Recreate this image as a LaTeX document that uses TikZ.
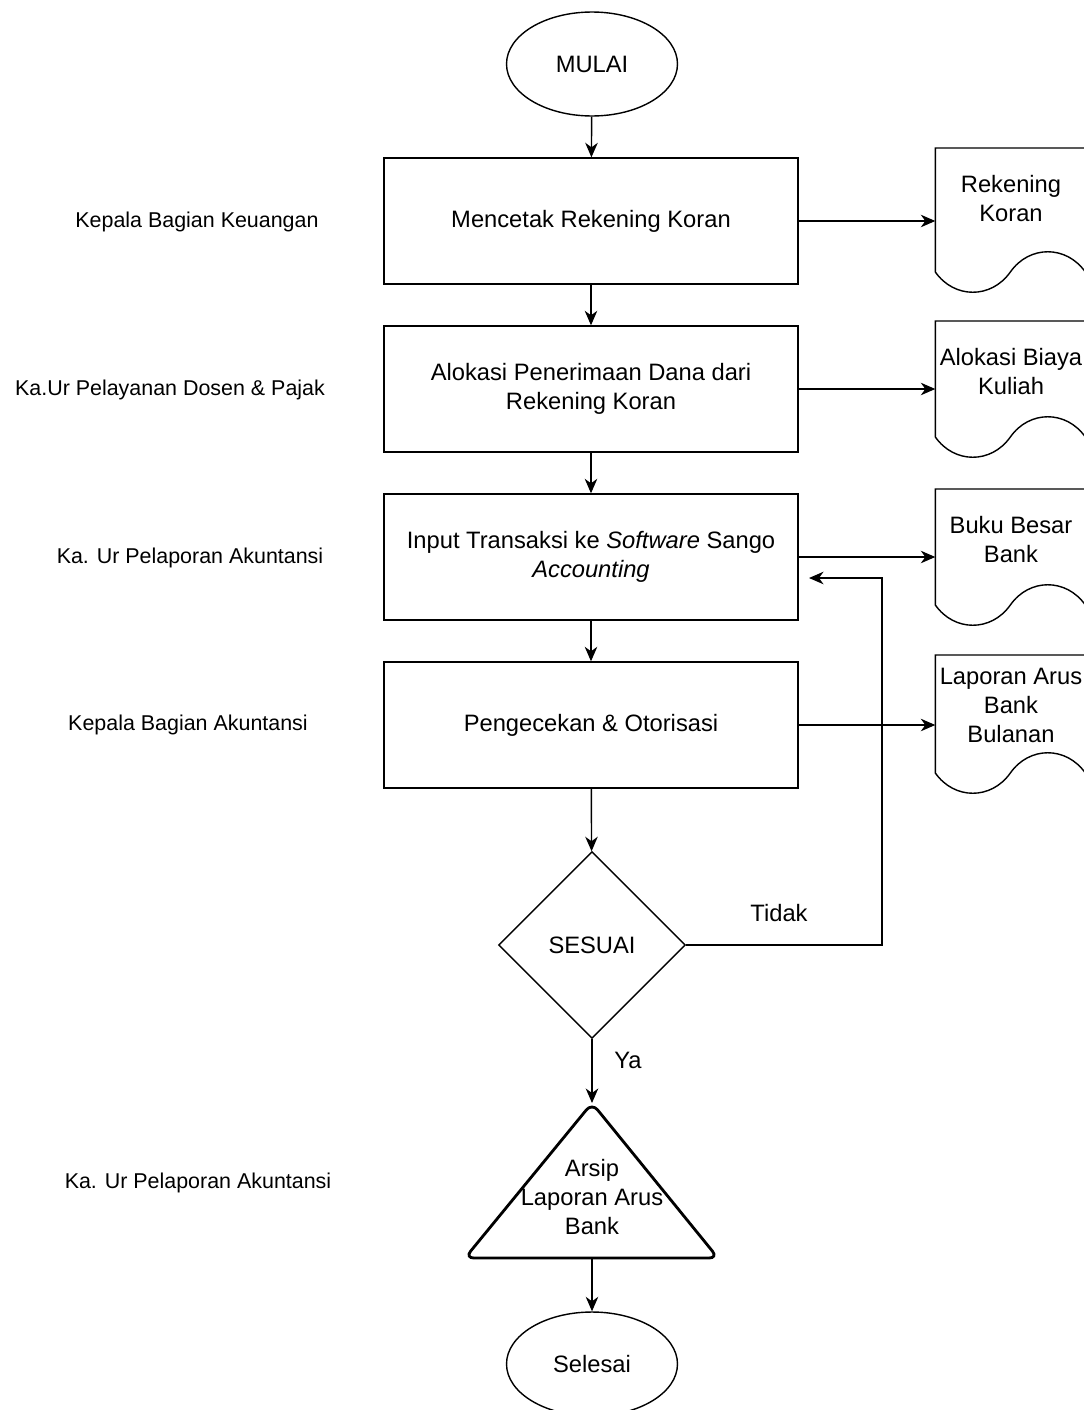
\documentclass[tikz,border=0pt]{standalone}
\usepackage{fontspec}
\setmainfont{Liberation Sans}
\usetikzlibrary{shapes.geometric,arrows.meta,positioning}
\newcommand{\isifont}{\fontsize{13.5}{16.4}\selectfont}
\newcommand{\pelakufont}{\fontsize{12.2}{14.6}\selectfont}
\tikzset{proses/.style={rectangle,draw,line width=0.8pt,minimum width=8.28cm,minimum height=2.52cm,inner sep=0pt,align=center,font=\isifont},
         terminal/.style={ellipse,draw,line width=0.8pt,minimum width=3.42cm,minimum height=2.08cm,inner sep=0pt,font=\isifont},
         keputusan/.style={diamond,draw,line width=0.8pt,aspect=1,minimum width=3.74cm,minimum height=3.74cm,inner sep=0pt,font=\isifont},
         dokumen/.style={rectangle,anchor=north,minimum width=3cm,minimum height=2cm,inner sep=0pt,align=center,font=\isifont},
         pelaku/.style={font=\pelakufont},
         ket/.style={font=\isifont},
}

\begin{document}
\begin{tikzpicture}[->,>={Stealth[length=2.9mm,width=2.5mm,inset=0.9mm]},line width=0.8pt,
x=0.02cm,y=-0.02cm]

\useasboundingbox (0,0) rectangle (1083,1410);
% \draw[help lines,step=100] (0,0) grid (1083,1410);

% alur utama
\node[terminal] (mulai) at (592,64) {MULAI};
\node[proses] (p1) at (591,221) {Mencetak Rekening Koran};
\node[proses] (p2) at (591,389) {Alokasi Penerimaan Dana dari\\Rekening Koran};
\node[proses] (p3) at (591,557) {Input Transaksi ke \textit{Software} Sango\\\textit{Accounting}};
\node[proses] (p4) at (591,725) {Pengecekan \& Otorisasi};
\node[keputusan] (cek) at (592,945) {SESUAI};
\node[terminal] (selesai) at (592,1364) {Selesai};

% arsip
\coordinate (puncak) at (592,1103);
\coordinate (alas) at (592,1258);
\draw[-,line width=1.6pt,rounded corners=5pt] (puncak) -- (718,1258) -- (465,1258) -- cycle;
\node[ket,align=center] (arsip) at (592,1197) {Arsip\\Laporan Arus\\Bank};

% pelaku
\node[pelaku] (k1) at (197,222) {Kepala Bagian Keuangan};
\node[pelaku] (k2) at (170,390) {Ka.Ur Pelayanan Dosen \& Pajak};
\node[pelaku] (k3) at (190,558) {Ka. Ur Pelaporan Akuntansi};
\node[pelaku] (k4) at (188,725) {Kepala Bagian Akuntansi};
\node[pelaku] (k5) at (198,1183) {Ka. Ur Pelaporan Akuntansi};

% dokumen keluaran
\node[dokumen] (d1) at (1011,148) {Rekening\\Koran};
\node[dokumen] (d2) at (1011,321) {Alokasi Biaya\\Kuliah};
\node[dokumen] (d3) at (1011,489) {Buku Besar\\Bank};
\node[dokumen] (d4) at (1011,655) {Laporan Arus\\Bank\\Bulanan};
\foreach \d/\h in {d1/124,d2/116,d3/116,d4/118}
  \draw[-] (\d.north east) -- (\d.north west) -- ++(0,\h)
    .. controls +(19,27) and +(-19,27) .. ++(75,0)
    .. controls +(19,-27) and +(-19,-27) .. ++(75,0) -- cycle;

\draw (mulai) -- (p1);
\draw (p1) -- (p2);
\draw (p2) -- (p3);
\draw (p3) -- (p4);
\draw (p4) -- (cek);
\draw (cek) -- (puncak);
\draw (alas) -- (selesai);
\foreach \i in {1,...,4}
  \draw (p\i.east) -- (p\i.east -| d\i.west);

% kembali jika tidak sesuai
\coordinate (balik) at (882,578);
\coordinate (masuk) at (809,578);
\draw (cek.east) -| (balik) -- (masuk);
\node[ket] (tidak) at (779,913) {Tidak};
\node[ket] (ya) at (628,1060) {Ya};
\end{tikzpicture}
\end{document}
